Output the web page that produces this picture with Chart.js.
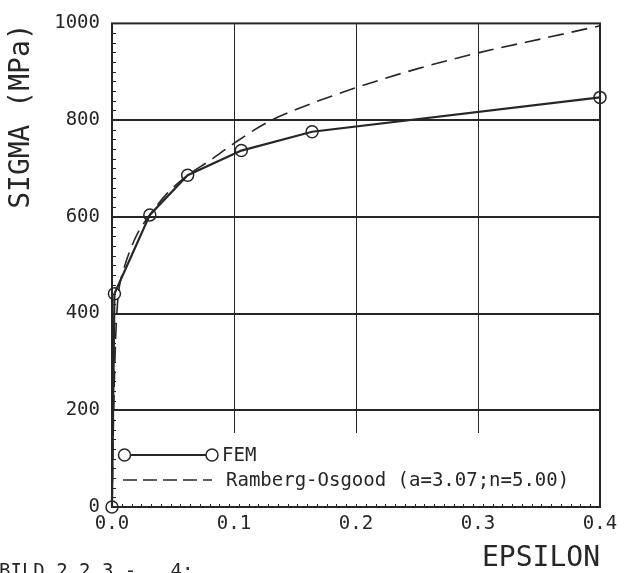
<!DOCTYPE html>
<html>
<head>
<meta charset="utf-8">
<script src="https://cdn.jsdelivr.net/npm/chart.js@4/dist/chart.umd.min.js"></script>
<style>
  html, body { margin: 0; padding: 0; background: #fff; }
  #wrap { width: 634px; height: 573px; position: relative; }
</style>
</head>
<body>
<div id="wrap"><canvas id="stressChart"></canvas></div>
<script>

// FEM results (circles)
var femEps   = [0, 0.002, 0.031, 0.062, 0.106, 0.164, 0.4];
var femSigma = [0, 441, 604, 686, 737, 776, 847];

// Ramberg-Osgood curve (dashed)
var roEps   = [0, 0.0012, 0.003, 0.0045, 0.006, 0.01, 0.015, 0.021, 0.031, 0.045, 0.062, 0.08, 0.1, 0.127, 0.154, 0.2, 0.25, 0.3, 0.35, 0.4];
var roSigma = [0, 180, 350, 420, 455, 495, 532, 566, 604, 648, 686, 716, 752, 795, 825, 867, 906, 939, 967, 995];

var xTicks = [0, 0.1, 0.2, 0.3, 0.4];
var yTicks = [0, 200, 400, 600, 800, 1000];

var legendLabels = ["FEM", "Ramberg-Osgood (a=3.07;n=5.00)"];
var caption = "BILD 2.2.3 -   4;";

var ink = "#262626";
var mono = "'DejaVu Sans Mono', 'Liberation Mono', monospace";

function toPoints(xs, ys) {
    var pts = [];
    for (var i = 0; i < xs.length; i++) {
        pts[i] = {x: xs[i], y: ys[i]};
    }
    return pts;
}

// box, partial vertical grid, minor ticks, legend and caption
var plotterPlugin = {
    id: 'plotter',
    beforeDatasetsDraw: function(chart) {
        var ctx = chart.ctx, ca = chart.chartArea;
        var x = chart.scales.x, y = chart.scales.y;
        ctx.save();
        ctx.strokeStyle = ink;

        // vertical grid lines stop above the legend
        ctx.lineWidth = 1;
        var stopY = y.getPixelForValue(153);
        for (var i = 1; i < xTicks.length - 1; i++) {
            var px = Math.round(x.getPixelForValue(xTicks[i])) + 0.5;
            ctx.beginPath(); ctx.moveTo(px, ca.top); ctx.lineTo(px, stopY); ctx.stroke();
        }

        // minor ticks, 50 divisions on each axis
        ctx.lineWidth = 1;
        for (var k = 1; k < 50; k++) {
            var ty = Math.round(y.getPixelForValue(k * 20)) + 0.5;
            ctx.beginPath(); ctx.moveTo(ca.left, ty); ctx.lineTo(ca.left + 4, ty); ctx.stroke();
            var tx = Math.round(x.getPixelForValue(k * 0.008)) + 0.5;
            ctx.beginPath(); ctx.moveTo(tx, ca.bottom); ctx.lineTo(tx, ca.bottom - 3); ctx.stroke();
        }

        // frame
        ctx.lineWidth = 2;
        ctx.strokeRect(ca.left, ca.top, ca.right - ca.left, ca.bottom - ca.top);
        ctx.restore();
    },
    afterDraw: function(chart) {
        var ctx = chart.ctx, ca = chart.chartArea;
        ctx.save();
        ctx.strokeStyle = ink;
        ctx.fillStyle = ink;
        ctx.font = "19px " + mono;
        ctx.textBaseline = "middle";

        // FEM sample: line with circles at both ends
        var fy = ca.bottom - 52;
        ctx.lineWidth = 2;
        ctx.beginPath(); ctx.moveTo(ca.left + 12.5, fy); ctx.lineTo(ca.left + 100, fy); ctx.stroke();
        ctx.lineWidth = 1.5;
        [ca.left + 12.5, ca.left + 100].forEach(function(cx) {
            ctx.beginPath(); ctx.arc(cx, fy, 6, 0, Math.PI * 2);
            ctx.fillStyle = "#fff"; ctx.fill(); ctx.stroke();
        });
        ctx.fillStyle = ink;
        ctx.fillText(legendLabels[0], ca.left + 110, fy + 1);

        // Ramberg-Osgood sample: dashed line
        var ry = ca.bottom - 27;
        ctx.lineWidth = 1.6;
        ctx.setLineDash([14, 6]);
        ctx.beginPath(); ctx.moveTo(ca.left + 11, ry); ctx.lineTo(ca.left + 100, ry); ctx.stroke();
        ctx.setLineDash([]);
        ctx.fillText(legendLabels[1], ca.left + 114, ry + 1);

        // figure caption, cut by the page edge
        ctx.textBaseline = "alphabetic";
        ctx.fillText(caption, -1, chart.height + 4);
        ctx.restore();
    }
};

var config = {
    type: 'line',
    data: {
        datasets: [{
            label: legendLabels[0],
            data: toPoints(femEps, femSigma),
            borderColor: ink,
            borderWidth: 2.2,
            pointRadius: 6,
            pointStyle: 'circle',
            pointBackgroundColor: 'rgba(255,255,255,0)',
            pointBorderColor: ink,
            pointBorderWidth: 1.5,
            fill: false,
            tension: 0,
            clip: false
        }, {
            label: legendLabels[1],
            data: toPoints(roEps, roSigma),
            borderColor: ink,
            borderWidth: 1.6,
            borderDash: [16, 8],
            pointRadius: 0,
            fill: false,
            cubicInterpolationMode: 'monotone',
            clip: false
        }]
    },
    options: {
        animation: false,
        responsive: true,
        maintainAspectRatio: false,
        devicePixelRatio: 1,
        layout: { padding: { left: 0, top: 17, right: 34, bottom: 0 } },
        plugins: {
            legend: { display: false },
            tooltip: { enabled: false }
        },
        scales: {
            x: {
                type: 'linear',
                min: 0,
                max: 0.4,
                afterFit: function(s) { s.height = 66; },
                afterBuildTicks: function(s) { s.ticks = xTicks.map(function(v) { return {value: v}; }); },
                grid: { display: false, drawTicks: false },
                border: { display: false },
                ticks: {
                    color: ink,
                    font: { family: mono, size: 19 },
                    padding: 6,
                    maxRotation: 0,
                    callback: function(v) { return v.toFixed(1); }
                },
                title: {
                    display: true,
                    text: 'EPSILON',
                    align: 'end',
                    color: ink,
                    font: { family: mono, size: 28, lineHeight: 1 },
                    padding: 0
                }
            },
            y: {
                min: 0,
                max: 1000,
                afterFit: function(s) { s.width = 112; },
                afterBuildTicks: function(s) { s.ticks = yTicks.map(function(v) { return {value: v}; }); },
                grid: {
                    drawTicks: false,
                    lineWidth: 2,
                    color: function(c) {
                        var v = c.tick ? c.tick.value : 0;
                        return (v === 0 || v === 1000) ? 'rgba(0,0,0,0)' : ink;
                    }
                },
                border: { display: false },
                ticks: {
                    color: ink,
                    font: { family: mono, size: 19 },
                    padding: 12,
                    callback: function(v) { return String(v); }
                },
                title: {
                    display: true,
                    text: 'SIGMA (MPa)',
                    align: 'end',
                    color: ink,
                    font: { family: mono, size: 28, lineHeight: 1 },
                    padding: { top: 8, bottom: 0 }
                }
            }
        }
    },
    plugins: [plotterPlugin]
};

var stressChart = document.getElementById("stressChart").getContext("2d");
window.myLine = new Chart(stressChart, config);

</script>
</body>
</html>
